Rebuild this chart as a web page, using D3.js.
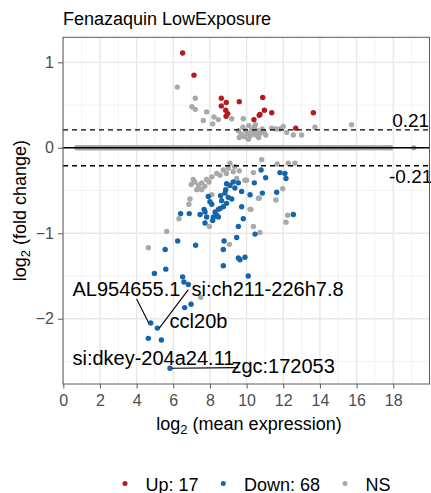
<!DOCTYPE html>
<html><head><meta charset="utf-8">
<script src="https://cdn.jsdelivr.net/npm/d3@7"></script>
<style>body{margin:0;background:#fff}svg{display:block;font-family:"Liberation Sans",Arial,sans-serif}</style>
</head><body><svg id="c" width="431" height="493"></svg>
<script>
const title = "Fenazaquin LowExposure";
const xTicks = [0,2,4,6,8,10,12,14,16,18];
const yTicks = [-2,-1,0,1];
const fcLine = 0.21;
const legendLabels = ["Up: 17","Down: 68","NS"];
const colors = ["#B31B21","#1465AC","#A9A9A9"];

// up-regulated (red)
const upX = [6.51,7.13,8.62,8.89,8.62,9.60,8.86,8.97,8.88,10.40,10.69,10.88,10.97,10.73,11.37,13.64,12.68];
const upY = [1.11,0.85,0.58,0.53,0.49,0.54,0.44,0.40,0.37,0.33,0.38,0.59,0.44,0.39,0.41,0.41,0.23];
// down-regulated (blue)
const downX = [8.91,9.27,9.55,9.09,8.86,9.73,10.19,10.42,7.91,8.58,8.10,9.19,8.91,7.68,7.73,7.46,8.28,8.55,8.73,8.46,8.19,8.15,8.46,9.73,9.82,9.55,9.46,10.46,6.40,6.87,6.24,7.22,8.77,8.73,5.56,9.55,9.91,10.79,11.04,11.82,12.09,12.15,11.64,10.86,12.55,8.73,9.64,10.09,4.97,5.59,6.51,6.58,6.82,6.97,6.62,4.77,5.13,4.64,5.35,5.82,8.82,8.37,7.82,7.73,8.64,9.00,9.36,8.00];
const downY = [-0.42,-0.40,-0.41,-0.44,-0.49,-0.51,-0.55,-0.41,-0.57,-0.56,-0.66,-0.60,-0.65,-0.72,-0.75,-0.78,-0.75,-0.71,-0.69,-0.72,-0.81,-0.85,-0.81,-0.69,-0.83,-0.92,-1.05,-1.01,-0.77,-0.77,-1.09,-1.14,-1.09,-1.19,-1.19,-1.29,-1.28,-0.26,-0.35,-0.29,-0.30,-0.36,-0.52,-0.53,-0.78,-1.38,-1.31,-1.50,-1.47,-1.42,-1.51,-1.57,-1.60,-1.83,-1.87,-2.05,-2.11,-2.23,-2.25,-2.58,-0.53,-0.79,-0.81,-0.88,-0.62,-0.58,-0.47,-0.63];
// not significant (gray), off the zero band
const nsX = [6.22,7.20,7.02,7.20,7.82,7.64,8.22,8.15,8.46,9.19,9.82,9.55,9.70,9.80,9.88,9.95,10.05,10.12,10.20,10.28,10.35,10.42,10.50,10.58,10.66,10.75,10.85,10.95,11.05,9.60,10.10,10.48,11.37,11.82,12.19,12.55,13.00,13.73,15.73,12.0,11.6,
  10.82,9.09,9.27,8.73,8.37,8.10,7.82,7.55,7.18,7.09,7.28,7.55,6.91,8.10,9.46,9.91,10.37,10.64,10.19,6.31,5.64,4.64,7.97,10.37,9.06,11.67,12.27,12.64,10.0,11.97,11.60,10.69,10.24,12.24,12.15,10.73,7.50,9.0,9.6,8.55,7.38,6.98,7.72,9.35,8.9,7.95,6.85];
const nsY = [0.71,0.58,0.48,0.45,0.42,0.32,0.36,0.28,0.33,0.34,0.34,0.20,0.16,0.24,0.13,0.20,0.17,0.26,0.14,0.21,0.18,0.24,0.15,0.20,0.12,0.17,0.22,0.19,0.15,0.12,0.10,0.27,0.23,0.22,0.18,0.15,0.15,0.24,0.27,0.25,0.22,
  -0.14,-0.18,-0.28,-0.26,-0.30,-0.34,-0.37,-0.41,-0.40,-0.37,-0.49,-0.49,-0.60,-0.55,-0.36,-0.38,-0.29,-0.59,-0.72,-0.83,-0.98,-1.17,-0.92,-0.92,-1.13,-0.19,-0.18,-0.18,-0.38,-0.48,-0.61,-0.59,-0.72,-0.79,-0.87,-0.99,-1.75,-0.24,-0.27,-0.32,-0.44,-0.43,-0.45,-0.22,-0.30,-0.40,-0.66];
// not significant genes lying on the zero line (log2 fold change ~ 0)
const bandX = [0.74,0.83,0.93,1.02,1.12,1.2,1.28,1.37,1.47,1.56,1.66,1.74,1.83,1.92,2.01,2.11,2.22,2.3,2.38,2.47,2.57,2.66,2.76,2.84,2.92,3.02,3.11,3.2,3.29,3.38,3.47,3.57,3.66,3.74,3.82,3.93,4.03,4.11,4.19,4.28,4.37,4.46,4.56,4.64,4.73,4.82,4.91,4.99,5.08,5.18,5.27,5.35,5.44,5.53,5.62,5.71,5.81,5.89,5.98,6.08,6.17,6.25,6.33,6.42,6.52,6.61,6.71,6.79,6.88,6.97,7.06,7.14,7.23,7.32,7.41,7.52,7.62,7.7,7.79,7.87,7.96,8.05,8.14,8.24,8.33,8.42,8.51,8.59,8.68,8.78,8.87,8.95,9.04,9.13,9.22,9.31,9.41,9.49,9.58,9.68,9.77,9.85,9.94,10.03,10.12,10.22,10.31,10.39,10.48,10.57,10.66,10.75,10.84,10.93,11.02,11.1,11.19,11.29,11.38,11.47,11.56,11.64,11.73,11.83,11.92,12.0,12.09,12.19,12.28,12.37,12.46,12.55,12.63,12.72,12.82,12.91,12.99,13.09,13.18,13.27,13.36,13.44,13.53,13.63,13.72,13.81,13.9,13.99,14.08,14.17,14.27,14.35,14.44,14.53,14.62,14.72,14.81,14.89,14.98,15.08,15.17,15.25,15.34,15.44,15.53,15.62,15.71,15.8,15.89,15.98,16.08,16.18,16.27,16.41,16.55,16.68,16.82,16.94,17.05,17.22,17.38,17.5,17.62,17.74,17.86,19.12];

// labelled genes
const labText = ["AL954655.1","si:ch211-226h7.8","ccl20b","si:dkey-204a24.11","zgc:172053"];

const svg = d3.select("#c");
const x = d3.scaleLinear().domain([0,20]).range([63.3,429.9]);
const y = d3.scaleLinear().domain([-2.764,1.293]).range([384,37.3]);
const L = 63, R = 430, T = 37.3, B = 384;

// panel background + grid
svg.append("rect").attr("x",L).attr("y",T).attr("width",R-L).attr("height",B-T).attr("fill","#fff");
const g = svg.append("g");
const minorX = d3.range(1,20,2), minorY = [-2.5,-1.5,-0.5,0.5];
g.selectAll(".mx").data(minorX).join("line").attr("x1",d=>x(d)).attr("x2",d=>x(d)).attr("y1",T).attr("y2",B).attr("stroke","#F0F0F0").attr("stroke-width",0.8);
g.selectAll(".my").data(minorY).join("line").attr("x1",L).attr("x2",R).attr("y1",d=>y(d)).attr("y2",d=>y(d)).attr("stroke","#F0F0F0").attr("stroke-width",0.8);
g.selectAll(".Mx").data(xTicks).join("line").attr("x1",d=>x(d)).attr("x2",d=>x(d)).attr("y1",T).attr("y2",B).attr("stroke","#E8E8E8").attr("stroke-width",1.4);
g.selectAll(".My").data(yTicks).join("line").attr("x1",L).attr("x2",R).attr("y1",d=>y(d)).attr("y2",d=>y(d)).attr("stroke","#E8E8E8").attr("stroke-width",1.4);

const r = 2.7;
const pts = svg.append("g");
pts.selectAll(".b").data(bandX).join("circle").attr("cx",d=>x(d)).attr("cy",y(0)).attr("r",r).attr("fill",colors[2]);
pts.selectAll(".n").data(nsX.map((v,i)=>[v,nsY[i]])).join("circle").attr("cx",d=>x(d[0])).attr("cy",d=>y(d[1])).attr("r",r).attr("fill",colors[2]);
pts.selectAll(".u").data(upX.map((v,i)=>[v,upY[i]])).join("circle").attr("cx",d=>x(d[0])).attr("cy",d=>y(d[1])).attr("r",r).attr("fill",colors[0]);
pts.selectAll(".d").data(downX.map((v,i)=>[v,downY[i]])).join("circle").attr("cx",d=>x(d[0])).attr("cy",d=>y(d[1])).attr("r",r).attr("fill",colors[1]);

// reference lines
svg.append("line").attr("x1",L).attr("x2",R).attr("y1",y(0)).attr("y2",y(0)).attr("stroke","#000").attr("stroke-width",1.6);
[fcLine,-fcLine].forEach(v=>{
  svg.append("line").attr("x1",L).attr("x2",R).attr("y1",y(v)).attr("y2",y(v)).attr("stroke","#000").attr("stroke-width",1.4).attr("stroke-dasharray","5,4");
});
svg.append("text").attr("x",x(18.95)).attr("y",y(fcLine)-2.5).attr("text-anchor","middle").attr("font-size",19).text(String(fcLine));
svg.append("text").attr("x",x(18.95)).attr("y",y(-fcLine)+17.5).attr("text-anchor","middle").attr("font-size",19).text(String(-fcLine));

// gene labels + segments
const lab = svg.append("g").attr("font-size",20).attr("fill","#000");
const segs = [
  [downX[55],downY[55], 4.0,-1.77],
  [downX[56],downY[56], 6.82,-1.66],
  [downX[59],downY[59], 9.55,-2.572]
];
lab.selectAll("line").data(segs).join("line")
  .attr("x1",d=>x(d[0])+ (d[2]<d[0]?-1:1)*2).attr("y1",d=>y(d[1]))
  .attr("x2",d=>x(d[2])).attr("y2",d=>y(d[3]))
  .attr("stroke","#000").attr("stroke-width",1.1);
const labPos = [[0.5,-1.73],[7.0,-1.73],[5.8,-2.11],[0.5,-2.54],[9.17,-2.64]];
lab.selectAll("text").data(labText).join("text").attr("x",(d,i)=>x(labPos[i][0])).attr("y",(d,i)=>y(labPos[i][1])).text(d=>d);

// border
svg.append("rect").attr("x",L).attr("y",T).attr("width",R-L-0.5).attr("height",B-T).attr("fill","none").attr("stroke","#5a5a5a").attr("stroke-width",1);

// axes
const xa = svg.append("g").attr("transform",`translate(0,${B})`).call(d3.axisBottom(x).tickValues(xTicks).tickFormat(d3.format("d")).tickSize(4.5).tickPadding(3));
const ya = svg.append("g").attr("transform",`translate(${L},0)`).call(d3.axisLeft(y).tickValues(yTicks).tickFormat(d3.format("d")).tickSize(5).tickPadding(4));
[xa,ya].forEach(a=>{a.select(".domain").remove();a.selectAll("line").attr("stroke","#5a5a5a");a.selectAll("text").attr("fill","#4D4D4D").attr("font-size",16).attr("font-family","Liberation Sans, Arial, sans-serif");});
xa.selectAll("text").attr("dy","0.9em");

// titles
svg.append("text").attr("x",63).attr("y",25).attr("font-size",18).text(title);
const xt = svg.append("text").attr("x",249).attr("y",429.5).attr("text-anchor","middle").attr("font-size",18);
xt.append("tspan").text("log");
xt.append("tspan").attr("font-size",13).attr("dy",4).text("2");
xt.append("tspan").attr("dy",-4).text(" (mean expression)");
const yt = svg.append("text").attr("transform","translate(26,210.7) rotate(-90)").attr("text-anchor","middle").attr("font-size",18);
yt.append("tspan").text("log");
yt.append("tspan").attr("font-size",13).attr("dy",4).text("2");
yt.append("tspan").attr("dy",-4).text(" (fold change)");

// legend
const lg = svg.append("g");
const lx = [125,223.3,345], tx = [145.5,244,365.5];
legendLabels.forEach((t,i)=>{
  lg.append("circle").attr("cx",lx[i]).attr("cy",483.5).attr("r",2.5).attr("fill",colors[i]);
  lg.append("text").attr("x",tx[i]).attr("y",490.5).attr("font-size",18).text(t);
});
</script></body></html>
